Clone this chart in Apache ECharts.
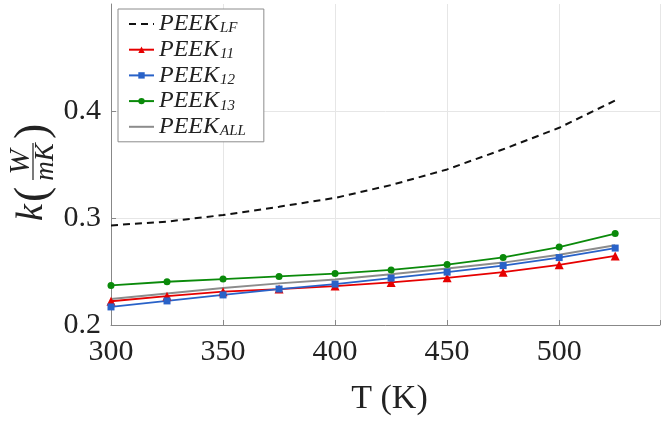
<!DOCTYPE html>
<html>
<head>
<meta charset="utf-8">
<title>PEEK k(T)</title>
<script src="https://cdn.jsdelivr.net/npm/echarts@6/dist/echarts.min.js"></script>
<style>
	html, body { margin: 0; padding: 0; background: #fff; }
	#chart { width: 663px; height: 421px; }
</style>
</head>
<body>
<div id="chart"></div>
<script>
// temperatures (K)
const temps = [300, 325, 350, 375, 400, 425, 450, 475, 500, 525];
// thermal conductivity k, W/(m K)
const kLF = [0.2931, 0.2966, 0.3028, 0.3105, 0.3188, 0.3308, 0.3454, 0.3642, 0.3843, 0.4098];
const k11 = [0.2222, 0.2269, 0.2311, 0.2336, 0.2364, 0.2398, 0.2441, 0.2494, 0.2562, 0.2645];
const k12 = [0.2169, 0.2225, 0.2281, 0.2336, 0.2382, 0.2438, 0.2494, 0.2555, 0.2630, 0.2719];
const k13 = [0.2370, 0.2404, 0.2429, 0.2454, 0.2481, 0.2515, 0.2565, 0.2632, 0.2728, 0.2855];
const kAll = [0.2244, 0.2295, 0.2345, 0.2389, 0.2426, 0.2475, 0.2528, 0.2583, 0.2657, 0.2746];
const seriesNames = ['PEEK_LF', 'PEEK_11', 'PEEK_12', 'PEEK_13', 'PEEK_ALL'];
const noMarker = ['PEEK_LF', 'PEEK_ALL'];
const xTicks = [300, 350, 400, 450, 500];

const serif = '"Liberation Serif", "DejaVu Serif", serif';
const ink = '#222';
const pairs = (ys) => temps.map((t, i) => [t, ys[i]]);

const chart = echarts.init(document.getElementById('chart'), null, { renderer: 'canvas' });

const mathText = (x, y, text, size, align, italic) => ({
	type: 'text',
	x,
	y,
	style: {
		text,
		fontSize: size,
		fontFamily: serif,
		fontStyle: italic ? 'italic' : 'normal',
		align,
		verticalAlign: 'middle',
		fill: ink
	}
});

chart.setOption({
	backgroundColor: '#fff',
	animation: false,
	grid: { left: 111, right: 0, top: 4, bottom: 93 },
	xAxis: {
		type: 'value',
		min: 300,
		max: 545,
		interval: 50,
		name: 'T (K)',
		nameLocation: 'middle',
		nameGap: 57,
		nameTextStyle: { fontFamily: serif, fontSize: 34, color: ink, padding: [0, 0, 0, 8] },
		axisLine: { show: true, lineStyle: { color: '#888', width: 1 } },
		axisTick: { show: true, inside: true, length: 5, lineStyle: { color: '#888' } },
		axisLabel: {
			margin: 12,
			fontFamily: serif,
			fontSize: 30,
			color: ink,
			formatter: (v) => (xTicks.includes(v) ? String(v) : '')
		},
		splitLine: { show: true, lineStyle: { color: '#e6e6e6', width: 1 } }
	},
	yAxis: {
		type: 'value',
		min: 0.2,
		max: 0.5,
		interval: 0.1,
		axisLine: { show: true, lineStyle: { color: '#888', width: 1 } },
		axisTick: { show: true, inside: true, length: 5, lineStyle: { color: '#888' } },
		axisLabel: {
			margin: 10,
			fontFamily: serif,
			fontSize: 30,
			color: ink,
			showMaxLabel: false,
			formatter: (v) => v.toFixed(1)
		},
		splitLine: { show: true, showMaxLine: false, lineStyle: { color: '#e6e6e6', width: 1 } }
	},
	legend: {
		orient: 'vertical',
		left: 118,
		top: 9,
		padding: [3, 18, 3, 10],
		itemWidth: 25,
		itemHeight: 8,
		itemGap: 1.7,
		itemTextGap: 5,
		backgroundColor: '#fff',
		borderColor: '#8c8c8c',
		borderWidth: 1,
		borderRadius: 0,
		data: seriesNames.map((name) => (noMarker.includes(name) ? { name, itemStyle: { opacity: 0 } } : { name })),
		formatter: (name) => {
			const [base, sub] = name.split('_');
			return `{m|${base}}{s|${sub}}`;
		},
		textStyle: {
			rich: {
				m: { fontFamily: serif, fontStyle: 'italic', fontSize: 24, color: ink, lineHeight: 24 },
				s: { fontFamily: serif, fontStyle: 'italic', fontSize: 15, color: ink, lineHeight: 24, verticalAlign: 'bottom', padding: [0, 0, 0, 1] }
			}
		}
	},
	graphic: [{
		type: 'group',
		x: 33,
		y: 221,
		rotation: Math.PI / 2,
		children: [
			mathText(0, -1, 'k', 38, 'left', true),
			mathText(19, 1, '(', 46, 'left', false),
			mathText(59, -12, 'W', 30, 'center', true),
			{ type: 'line', shape: { x1: 41, y1: 0, x2: 78, y2: 0 }, style: { stroke: ink, lineWidth: 1.2 } },
			mathText(59, 13, 'mK', 27, 'center', true),
			mathText(82, 1, ')', 46, 'left', false)
		]
	}],
	series: [
		{
			name: 'PEEK_LF',
			type: 'line',
			data: pairs(kLF),
			symbol: 'none',
			lineStyle: { color: '#111', width: 2, type: [7, 5] },
			itemStyle: { color: '#111' }
		},
		{
			name: 'PEEK_11',
			type: 'line',
			data: pairs(k11),
			symbol: 'triangle',
			symbolSize: 9,
			lineStyle: { color: '#e60000', width: 1.8 },
			itemStyle: { color: '#e60000' }
		},
		{
			name: 'PEEK_12',
			type: 'line',
			data: pairs(k12),
			symbol: 'rect',
			symbolSize: 7,
			lineStyle: { color: '#2962c8', width: 1.8 },
			itemStyle: { color: '#2962c8' }
		},
		{
			name: 'PEEK_13',
			type: 'line',
			data: pairs(k13),
			symbol: 'circle',
			symbolSize: 7,
			lineStyle: { color: '#0a8a0a', width: 1.8 },
			itemStyle: { color: '#0a8a0a' }
		},
		{
			name: 'PEEK_ALL',
			type: 'line',
			data: pairs(kAll),
			symbol: 'none',
			lineStyle: { color: '#8c8c8c', width: 2 },
			itemStyle: { color: '#8c8c8c' }
		}
	]
});
</script>
</body>
</html>
